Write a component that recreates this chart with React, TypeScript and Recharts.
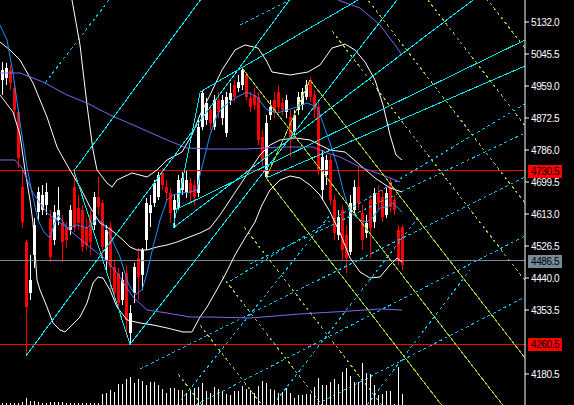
import React from 'react';
import { ComposedChart, XAxis, YAxis, Bar, Line, Scatter, ReferenceLine } from 'recharts';

const W = 574;
const H = 405;

// ---- price data (bar index 0..100) ----
const OPEN = [
  4975.3, 4980.7, 5002.3, 4953.6, 4888.8, 4686.0, 4537.3, 4399.5, 4502.2, 4618.4,
  4623.8, 4637.4, 4602.2, 4542.8, 4596.8, 4588.7, 4575.2, 4569.8, 4686.0, 4629.2,
  4623.8, 4577.9, 4610.3, 4583.3, 4659.0, 4642.8, 4488.7, 4577.9, 4469.8, 4453.5,
  4380.6, 4453.5, 4291.4, 4399.5, 4494.1, 4448.1, 4542.8, 4615.7, 4642.8, 4659.0,
  4723.9, 4686.0, 4669.8, 4623.8, 4632.0, 4677.9, 4669.8, 4696.8, 4691.4, 4669.8,
  4848.2, 4867.1, 4894.2, 4848.2, 4921.2, 4872.5, 4832.0, 4921.2, 4961.7, 4953.6,
  4961.7, 4988.8, 4926.6, 4934.7, 4929.3, 4821.2, 4713.0, 4880.6, 4921.2, 4942.8,
  4913.1, 4888.8, 4875.2, 4834.7, 4894.2, 4907.7, 4929.3, 4975.3, 4934.7, 4902.3,
  4677.9, 4718.5, 4759.0, 4650.9, 4556.3, 4623.8, 4556.3, 4510.3, 4623.8, 4686.0,
  4615.7, 4561.7, 4650.9, 4591.4, 4669.8, 4659.0, 4610.3, 4699.5, 4650.9, 4569.8,
  4577.9,
];
const HIGH = [
  5023.9, 5021.2, 5015.8, 4969.9, 4899.6, 4732.0, 4542.8, 4502.2, 4602.2, 4686.0,
  4691.4, 4696.8, 4623.8, 4637.4, 4686.0, 4610.3, 4591.4, 4637.4, 4730.5, 4664.4,
  4637.4, 4602.2, 4623.8, 4672.5, 4713.0, 4650.9, 4583.3, 4591.4, 4488.7, 4467.1,
  4456.3, 4475.2, 4367.1, 4480.6, 4521.1, 4521.1, 4656.3, 4664.4, 4704.9, 4726.6,
  4737.4, 4704.9, 4683.3, 4664.4, 4718.5, 4726.6, 4732.0, 4710.3, 4704.9, 4867.1,
  4948.2, 4926.6, 4907.7, 4934.7, 4942.8, 4934.7, 4942.8, 4967.1, 4975.3, 4988.8,
  5007.7, 4996.9, 4942.8, 4953.6, 4942.8, 4840.1, 4880.6, 4921.2, 4942.8, 4961.7,
  4926.6, 4934.7, 4894.2, 4894.2, 4942.8, 4953.6, 4975.3, 4983.4, 4948.2, 4921.2,
  4786.0, 4772.5, 4772.5, 4664.4, 4623.8, 4637.4, 4583.3, 4664.4, 4704.9, 4740.1,
  4637.4, 4610.3, 4664.4, 4683.3, 4691.4, 4677.9, 4683.3, 4710.3, 4664.4, 4583.3,
  4583.3,
];
const LOW = [
  4934.7, 4961.7, 4948.2, 4872.5, 4737.4, 4575.2, 4229.2, 4380.6, 4467.1, 4596.8,
  4610.3, 4610.3, 4483.3, 4529.2, 4583.3, 4483.3, 4521.1, 4556.3, 4564.4, 4569.8,
  4510.3, 4515.7, 4502.2, 4569.8, 4610.3, 4488.7, 4461.7, 4407.6, 4380.6, 4359.0,
  4367.1, 4280.6, 4260.5, 4372.5, 4380.6, 4407.6, 4515.7, 4577.9, 4632.0, 4650.9,
  4677.9, 4650.9, 4588.7, 4575.2, 4623.8, 4664.4, 4656.3, 4642.8, 4637.4, 4659.0,
  4840.1, 4853.6, 4840.1, 4840.1, 4872.5, 4853.6, 4821.2, 4907.7, 4915.8, 4942.8,
  4948.2, 4921.2, 4888.8, 4894.2, 4799.5, 4737.4, 4710.3, 4867.1, 4872.5, 4888.8,
  4880.6, 4872.5, 4767.1, 4821.2, 4880.6, 4894.2, 4921.2, 4915.8, 4872.5, 4718.5,
  4650.9, 4691.4, 4637.4, 4542.8, 4542.8, 4488.7, 4453.5, 4502.2, 4610.3, 4623.8,
  4515.7, 4548.2, 4494.1, 4575.2, 4623.8, 4591.4, 4602.2, 4618.4, 4610.3, 4475.2,
  4461.7,
];
const CLOSE = [
  5002.3, 5007.7, 4967.1, 4894.2, 4764.4, 4591.4, 4361.6, 4434.6, 4583.3, 4672.5,
  4664.4, 4672.5, 4496.8, 4618.4, 4623.8, 4537.3, 4542.8, 4623.8, 4575.2, 4588.7,
  4523.8, 4529.2, 4537.3, 4659.0, 4632.0, 4523.8, 4569.8, 4469.8, 4399.5, 4372.5,
  4434.6, 4326.5, 4345.4, 4469.8, 4442.8, 4515.7, 4642.8, 4637.4, 4696.8, 4718.5,
  4691.4, 4669.8, 4615.7, 4650.9, 4704.9, 4710.3, 4704.9, 4669.8, 4659.0, 4848.2,
  4940.1, 4913.1, 4859.0, 4921.2, 4888.8, 4921.2, 4929.3, 4940.1, 4929.3, 4969.9,
  5002.3, 4929.3, 4902.3, 4907.7, 4813.1, 4759.0, 4859.0, 4902.3, 4888.8, 4902.3,
  4894.2, 4921.2, 4813.1, 4880.6, 4929.3, 4942.8, 4961.7, 4929.3, 4894.2, 4732.0,
  4767.1, 4759.0, 4650.9, 4561.7, 4604.9, 4515.7, 4494.1, 4642.8, 4686.0, 4642.8,
  4542.8, 4588.7, 4575.2, 4669.8, 4642.8, 4604.9, 4669.8, 4632.0, 4623.8, 4488.7,
  4475.2,
];
const VOLUME = [
  200, 200, 200, 200, 200, 300, 700, 400, 400, 300, 200, 200, 300, 300, 300, 300, 200, 200, 200, 200,
  200, 200, 200, 200, 200, 1100, 1200, 1500, 1300, 2100, 2100, 2600, 2800, 2200, 2600, 2400, 2000, 2300,
  2300, 2000, 1600, 1200, 1700, 1700, 1500, 1500, 1200, 1400, 1700, 1800, 2200, 1400, 1200, 1800, 1600,
  1400, 1100, 1000, 1400, 1400, 1900, 1600, 1500, 1200, 1900, 2400, 2200, 1600, 1500, 1200, 1300, 1700,
  1200, 700, 1000, 1000, 1100, 1100, 1800, 2700, 2000, 2000, 2300, 2600, 2100, 3300, 3700, 2900, 2300,
  2300, 4200, 3200, 3100, 2000, 1000, 1100, 1400, 1400, 100, 3800, 1100,
];

const PRICE_TICKS = [5132.0, 5045.5, 4959.0, 4872.5, 4786.0, 4699.5, 4613.0, 4526.5, 4440.0, 4353.5, 4180.5];
const PRICE_DOMAIN: [number, number] = [4096.7, 5191.5];
const BAR_DOMAIN: [number, number] = [-0.5, 130.75];
const VOLUME_DOMAIN: [number, number] = [0, 40500];

// ---- indicators: [bar index, price] ----
const MA_FAST: [number, number][] = [
  [-0.5, 5123.9], [1.25, 5083.4], [2.75, 4994.2], [4.5, 4859.0], [6.25, 4740.1], [7.5, 4669.8], [9, 4596.8],
  [10.5, 4564.4], [12, 4548.2], [13.25, 4591.4], [14, 4610.3], [15.25, 4591.4], [16.25, 4575.2], [18.75, 4583.3],
  [21.25, 4575.2], [23.75, 4599.5], [25.25, 4588.7], [27, 4556.3], [29.5, 4496.8], [31.5, 4426.5], [33.25, 4394.1],
  [35, 4407.6], [36.25, 4453.5], [37.75, 4523.8], [39.5, 4596.8], [41.25, 4650.9], [42.75, 4664.4], [44.5, 4669.8],
  [47, 4672.5], [48.75, 4677.9], [49.5, 4718.5], [50.75, 4772.5], [52, 4826.6], [53.75, 4880.6], [55.25, 4902.3],
  [58.75, 4929.3], [61.25, 4942.8], [63.75, 4929.3], [66.25, 4894.2], [68.75, 4886.0], [71.25, 4894.2],
  [73.75, 4902.3], [76.25, 4913.1], [78.75, 4902.3], [80.25, 4859.0], [82, 4805.0], [83.75, 4745.5],
  [85.25, 4677.9], [87, 4618.4], [89.5, 4596.8], [91.25, 4591.4], [92.75, 4604.9], [94.5, 4629.2],
  [96.25, 4632.0], [97.75, 4642.8], [100, 4618.4],
];
const MA_SLOW: [number, number][] = [
  [-0.5, 4994.2], [4.5, 4994.2], [10.25, 4969.9], [16.25, 4934.7], [21.25, 4913.1], [27, 4880.6], [34.5, 4845.5],
  [41.25, 4813.1], [46.25, 4791.4], [52, 4788.7], [61.25, 4788.7], [69.5, 4794.1], [77.75, 4794.1], [81.25, 4777.9],
  [84.5, 4767.1], [89.5, 4740.1], [94.5, 4721.2], [99.5, 4699.5],
];
const MA_LOW: [number, number][] = [
  [-0.5, 4759.0], [3.25, 4759.0], [5, 4737.4], [7.75, 4669.8], [11.25, 4615.7], [16.25, 4575.2], [21.25, 4529.2],
  [25.25, 4496.8], [28.75, 4453.5], [32.75, 4388.7], [36.25, 4353.5], [41.25, 4345.4], [47, 4334.6], [52, 4334.6],
  [62, 4331.9], [74.5, 4342.7], [87, 4350.8], [94.5, 4356.2], [100, 4353.5],
];
const MA_TOP: [number, number][] = [
  [84, 5191.5], [89.5, 5169.9], [94.5, 5123.9], [98.25, 5069.9], [100, 5042.8],
];
const BB_UPPER: [number, number][] = [
  [16, 5245.6], [17.5, 5191.5], [19.5, 5069.9], [21.25, 4907.7], [22.75, 4786.0], [23.75, 4732.0], [26.25, 4696.8],
  [27.5, 4686.0], [28.75, 4704.9], [32.5, 4723.9], [36.25, 4713.0], [38.75, 4732.0], [41.25, 4759.0], [45, 4780.6],
  [47.5, 4826.6], [49.5, 4880.6], [52, 4934.7], [55, 5002.3], [58.25, 5056.3], [60.75, 5069.9], [64, 5061.7],
  [66, 5029.3], [67.5, 4996.9], [72, 4988.8], [76.5, 4996.9], [79.5, 5015.8], [82.5, 5061.7], [85.75, 5072.6],
  [88.25, 5056.3], [90.75, 5023.9], [93.25, 4975.3], [95.25, 4907.7], [97, 4826.6], [98.5, 4772.5], [100, 4759.0],
];
const BB_MID: [number, number][] = [
  [-0.5, 5078.0], [2, 5056.3], [4.5, 5029.3], [7.75, 4967.1], [11.25, 4875.2], [13.75, 4794.1], [16.25, 4745.5],
  [19.5, 4686.0], [22, 4632.0], [24.5, 4588.7], [26.25, 4577.9], [28.25, 4561.7], [30.25, 4542.8], [32, 4523.8],
  [33.75, 4515.7], [36.25, 4515.7], [38.75, 4523.8], [41.25, 4529.2], [43.75, 4537.3], [46.25, 4548.2],
  [49.5, 4561.7], [52, 4575.2], [54.5, 4610.3], [57, 4650.9], [59.5, 4691.4], [62, 4732.0], [64.5, 4772.5],
  [67, 4799.5], [69.5, 4813.1], [73.25, 4818.5], [77, 4813.1], [79.5, 4799.5], [82, 4786.0], [85.75, 4780.6],
  [89.5, 4745.5], [93.25, 4710.3], [97, 4683.3], [100, 4672.5],
];
const BB_LOWER: [number, number][] = [
  [-0.5, 4934.7], [2.75, 4888.8], [4.5, 4826.6], [5.75, 4732.0], [7, 4650.9], [7.75, 4588.7], [8.75, 4434.6],
  [9.5, 4407.6], [11.25, 4361.6], [12.75, 4318.4], [14.5, 4299.5], [15.75, 4294.1], [17, 4307.6], [19.5, 4334.6],
  [21.25, 4372.5], [22.75, 4426.5], [24, 4442.8], [25.25, 4440.0], [27, 4407.6], [28.75, 4361.6], [31.25, 4326.5],
  [34.5, 4318.4], [37.75, 4313.0], [41.25, 4304.9], [45.25, 4294.1], [47.5, 4294.1], [49.5, 4334.6],
  [51.25, 4361.6], [53.25, 4399.5], [55.75, 4448.1], [58.25, 4502.2], [60.75, 4548.2], [63.25, 4591.4],
  [65, 4637.4], [67, 4677.9], [69.5, 4704.9], [72, 4715.8], [74.5, 4710.3], [77, 4691.4], [79.5, 4664.4],
  [82, 4618.4], [84.5, 4561.7], [87, 4494.1], [89.5, 4456.3], [92, 4440.0], [94.5, 4442.8], [97, 4475.2],
  [98.75, 4494.1], [100, 4483.3],
];

// ---- drawn objects: [[index, price], [index, price]] ----
type Seg = [[number, number], [number, number]];
const CYAN_SOLID: Seg[] = [
  [[6, 4229.2], [71.9, 5191.5]],
  [[32, 4260.5], [98.75, 5191.5]],
  [[18, 4730.5], [32, 4260.5]],
  [[18, 4730.5], [49.6, 5191.5]],
  [[42.75, 4575.2], [49.5, 4940.1]],
  [[49.5, 4942.8], [89, 5191.5]],
  [[43.25, 4623.8], [130.75, 5083.4]],
  [[66, 4710.3], [130.75, 5013.1]],
  [[42.75, 4575.2], [117.75, 5191.5]],
];
const CYAN_DASHED: Seg[] = [
  [[34.5, 4194.1], [130.75, 4713.1]],
  [[44.5, 4075.1], [130.75, 4553.6]],
  [[72, 4061.6], [130.75, 4388.7]],
  [[57, 4431.9], [130.75, 4910.4]],
  [[62, 4477.9], [130.75, 4832.0]],
  [[10.75, 4967.1], [26.75, 5191.5]],
  [[43.75, 4096.7], [82, 4610.3]],
  [[67.75, 4096.7], [104.5, 4610.3]],
  [[91.25, 4096.7], [117, 4461.7]],
  [[59.5, 5123.9], [72, 5191.5]],
];
const FORK_SOLID: Seg[] = [
  [[60, 5007.7], [139.5, 3896.2]],
  [[66, 4710.3], [77, 4975.3]],
  [[66, 4710.3], [139.5, 3682.9]],
  [[77, 4975.3], [139.5, 4101.4]],
];
const FORK_DASHED: Seg[] = [
  [[60.5, 4577.9], [139.5, 3473.4]],
  [[55, 4445.4], [139.5, 3264.2]],
  [[49.5, 4313.0], [139.5, 3054.7]],
  [[44, 4180.5], [139.5, 2845.5]],
  [[82.5, 5107.7], [139.5, 4310.8]],
  [[88, 5240.2], [139.5, 4520.1]],
  [[93.5, 5372.6], [139.5, 4729.5]],
  [[99, 5505.1], [139.5, 4938.8]],
];
const LEVEL_PRICES = [4730.5, 4260.5, 4486.5];
const LEVEL_LABELS = ['4730.5', '4260.5', '4486.5'];
const LEVEL_COLORS = ['#ff0000', '#ff0000', '#778899'];

const candles = OPEN.map((o, i) => ({ i, o, h: HIGH[i], l: LOW[i], c: CLOSE[i], v: VOLUME[i] }));
const toRows = (pts: [number, number][]) => pts.map(([i, v]) => ({ i, v }));

const FONT = 'Liberation Sans, Arial, sans-serif';
const CYAN = '#00e8f0';
const CYAN_DOT = '#00c8f0';
const YGREEN = '#9acd32';

const Candle = (props: any) => {
  const { x, y, width, height, payload } = props;
  if (x == null || y == null || !payload) return null;
  const top = Math.min(y, y + height);
  const bot = Math.max(y, y + height);
  const span = payload.h - payload.l;
  const toY = (p: number) => (span > 0 ? top + ((payload.h - p) / span) * (bot - top) : top);
  const yo = toY(payload.o);
  const yc = toY(payload.c);
  const up = payload.c >= payload.o;
  const col = up ? '#ffffff' : '#ff0000';
  const cx = Math.round(x + width / 2);
  const bt = Math.round(Math.min(yo, yc));
  const bb = Math.round(Math.max(yo, yc));
  return (
    <g>
      <rect x={cx} y={Math.round(top)} width={1} height={Math.max(1, Math.round(bot) - Math.round(top))} fill={col} shapeRendering="crispEdges" />
      <rect x={cx - 1} y={bt} width={3} height={Math.max(1, bb - bt)} fill={col} shapeRendering="crispEdges" />
    </g>
  );
};

const VolumeStick = (props: any) => {
  const { cx, cy } = props;
  if (cx == null || cy == null) return null;
  const x = Math.round(cx);
  const t = Math.round(cy);
  return <rect x={x} y={t} width={1} height={Math.max(1, H - t)} fill="#ffffff" shapeRendering="crispEdges" />;
};

const PriceTag = (props: any) => {
  const { viewBox, text, bg, fg } = props;
  if (!viewBox) return null;
  const x = viewBox.x + viewBox.width;
  const y = Math.round(viewBox.y);
  return (
    <g>
      <rect x={x + 3} y={y - 6} width={34} height={13} fill={bg} />
      <text x={x + 6} y={y + 4} fill={fg} fontSize={10} fontFamily={FONT} letterSpacing={-0.4}>
        {text}
      </text>
    </g>
  );
};

const seg = (s: Seg) => [{ x: s[0][0], y: s[0][1] }, { x: s[1][0], y: s[1][1] }];

export default function App() {
  return (
    <div style={{ position: 'absolute', left: 0, top: 0, width: W, height: H, background: '#000', overflow: 'hidden' }}>
      <ComposedChart width={W} height={H} data={candles} margin={{ top: 0, right: 0, bottom: 0, left: 0 }}>
        <XAxis type="number" dataKey="i" domain={BAR_DOMAIN} hide allowDataOverflow />
        <YAxis
          yAxisId="p"
          orientation="right"
          type="number"
          domain={PRICE_DOMAIN}
          ticks={PRICE_TICKS}
          interval={0}
          allowDataOverflow
          width={49}
          tickSize={4}
          tickMargin={2}
          axisLine={{ stroke: '#ffffff' }}
          tickLine={{ stroke: '#ffffff' }}
          tick={{ fill: '#ffffff', fontSize: 10, fontFamily: FONT, letterSpacing: -0.4 }}
          tickFormatter={(v: number) => v.toFixed(1)}
        />
        <YAxis yAxisId="v" type="number" domain={VOLUME_DOMAIN} hide allowDataOverflow />

        <Scatter yAxisId="v" data={candles} dataKey="v" shape={VolumeStick} isAnimationActive={false} />

        {LEVEL_PRICES.map((p, k) => (
          <ReferenceLine
            key={'lvl' + k}
            yAxisId="p"
            y={p}
            stroke={LEVEL_COLORS[k]}
            strokeWidth={1}
            shapeRendering="crispEdges"
            label={<PriceTag text={LEVEL_LABELS[k]} bg={LEVEL_COLORS[k]} fg="#000000" />}
          />
        ))}

        {FORK_DASHED.map((s, k) => (
          <ReferenceLine key={'fd' + k} yAxisId="p" segment={seg(s)}
            stroke={YGREEN} strokeDasharray="3 3" shapeRendering="crispEdges" ifOverflow="hidden" />
        ))}
        {CYAN_DASHED.map((s, k) => (
          <ReferenceLine key={'cd' + k} yAxisId="p" segment={seg(s)}
            stroke={CYAN_DOT} strokeDasharray="3 3" shapeRendering="crispEdges" ifOverflow="hidden" />
        ))}

        <Bar yAxisId="p" dataKey={(d: any) => [d.l, d.h]} barSize={3} shape={Candle} isAnimationActive={false} />

        <Line yAxisId="p" data={toRows(BB_UPPER)} dataKey="v" type="linear" stroke="#ffffff" strokeWidth={1} dot={false} activeDot={false} isAnimationActive={false} />
        <Line yAxisId="p" data={toRows(BB_MID)} dataKey="v" type="linear" stroke="#ffffff" strokeWidth={1} dot={false} activeDot={false} isAnimationActive={false} />
        <Line yAxisId="p" data={toRows(BB_LOWER)} dataKey="v" type="linear" stroke="#ffffff" strokeWidth={1} dot={false} activeDot={false} isAnimationActive={false} />
        <Line yAxisId="p" data={toRows(MA_SLOW)} dataKey="v" type="linear" stroke="#7b68ee" strokeWidth={1} dot={false} activeDot={false} isAnimationActive={false} />
        <Line yAxisId="p" data={toRows(MA_LOW)} dataKey="v" type="linear" stroke="#7b68ee" strokeWidth={1} dot={false} activeDot={false} isAnimationActive={false} />
        <Line yAxisId="p" data={toRows(MA_TOP)} dataKey="v" type="linear" stroke="#7b68ee" strokeWidth={1} dot={false} activeDot={false} isAnimationActive={false} />
        <Line yAxisId="p" data={toRows(MA_FAST)} dataKey="v" type="linear" stroke="#1e90ff" strokeWidth={1} dot={false} activeDot={false} isAnimationActive={false} />

        {CYAN_SOLID.map((s, k) => (
          <ReferenceLine key={'cs' + k} yAxisId="p" segment={seg(s)}
            stroke={CYAN} strokeWidth={1} shapeRendering="crispEdges" ifOverflow="hidden" />
        ))}
        {FORK_SOLID.map((s, k) => (
          <ReferenceLine key={'fs' + k} yAxisId="p" segment={seg(s)}
            stroke={YGREEN} strokeWidth={1} shapeRendering="crispEdges" ifOverflow="hidden" />
        ))}
      </ComposedChart>
    </div>
  );
}
